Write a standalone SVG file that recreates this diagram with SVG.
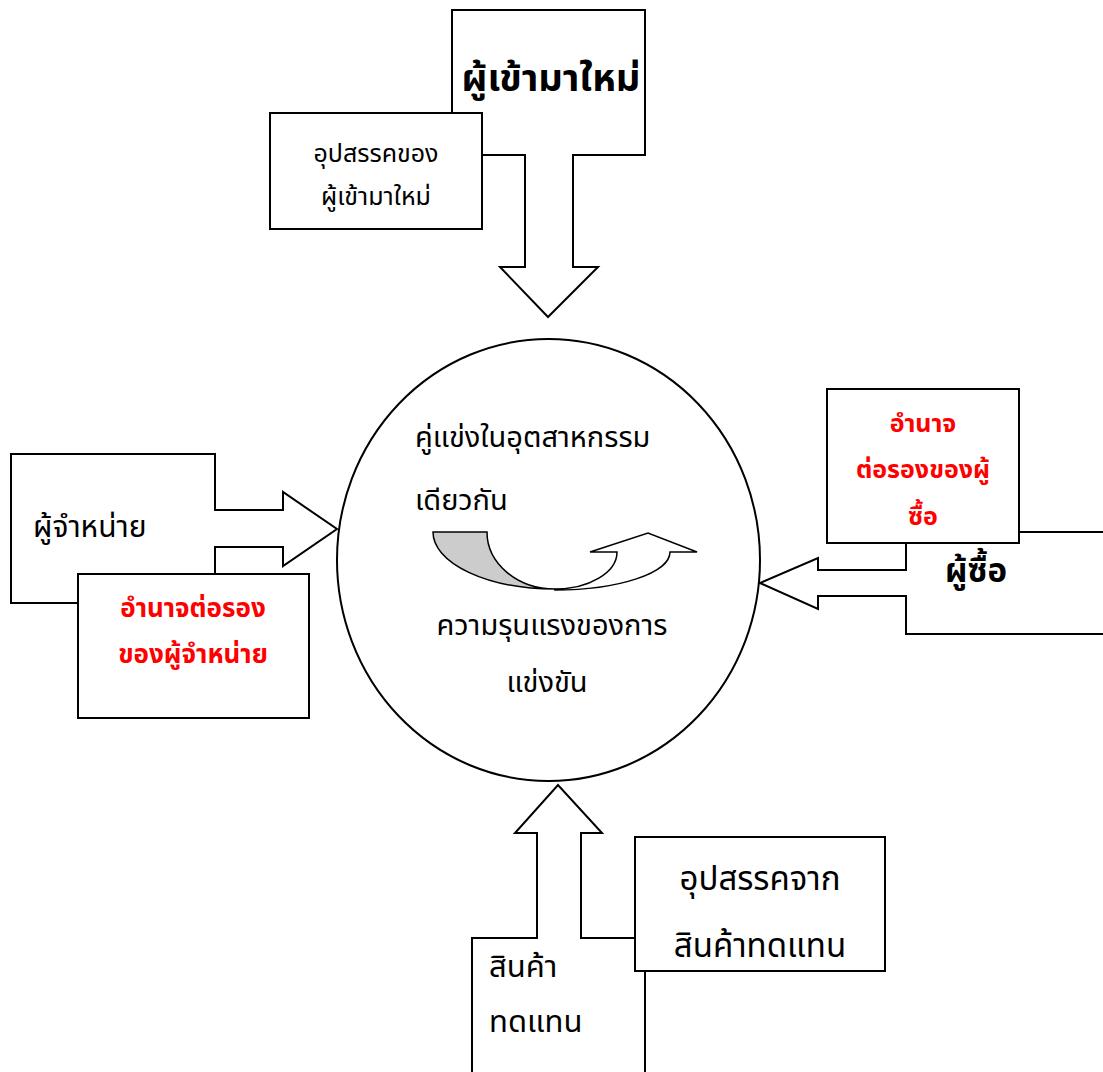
<svg xmlns="http://www.w3.org/2000/svg" width="1103" height="1072" viewBox="0 0 1103 1072">
<style>
.sh{fill:#fff;stroke:#000;stroke-width:2;stroke-linejoin:miter}
.t{font-family:"Noto Sans Thai","Noto Sans","DejaVu Sans",sans-serif;fill:#000}
.b{font-weight:bold}
.r{fill:#ff0000;font-weight:bold}
.m{text-anchor:middle}
</style>
<rect width="1103" height="1072" fill="#fff"/>
<g id="rivalry">
<ellipse cx="548.5" cy="560" rx="211.5" ry="221" class="sh"/>
<text class="t" x="415" y="447" font-size="29">คู่แข่งในอุตสาหกรรม</text>
<text class="t" x="415" y="510" font-size="29">เดียวกัน</text>
<path d="M433,532 L487,532 A68,57 0 0 0 555,589 A122,57 0 0 1 433,532 Z" fill="#cccccc" stroke="#000" stroke-width="1.5"/>
<path d="M555,589 A62,37 0 0 0 617,552 L590,552 L648,533 L697,552 L670,552 A115,38 0 0 1 555,590 Z" fill="#fff" stroke="#000" stroke-width="1.5"/>
<text class="t m" x="552" y="635" font-size="29">ความรุนแรงของการ</text>
<text class="t m" x="547" y="692" font-size="29">แข่งขัน</text>
</g>
<g id="connectors">
</g>
<g id="new-entrants">
<path class="sh" d="M452,10 H645 V155 H573 V267 H598 L548,317 L500,267 H525 V155 H452 Z"/>
<text class="t b m" x="551" y="91" font-size="38">ผู้เข้ามาใหม่</text>
</g>
<g id="entry-barriers">
<rect class="sh" x="270" y="113" width="212" height="116"/>
<text class="t m" x="376" y="162" font-size="25">อุปสรรคของ</text>
<text class="t m" x="376" y="205" font-size="25">ผู้เข้ามาใหม่</text>
</g>
<g id="suppliers">
<path class="sh" d="M11,454 H215 V510 H283 V492 L337,529 L283,566 V547 H215 V603 H11 Z"/>
<text class="t" x="33" y="537" font-size="30">ผู้จำหน่าย</text>
</g>
<g id="supplier-power">
<rect class="sh" x="78" y="574" width="231" height="144"/>
<text class="t r m" x="193" y="617" font-size="26">อำนาจต่อรอง</text>
<text class="t r m" x="193" y="663" font-size="26">ของผู้จำหน่าย</text>
</g>
<g id="buyers">
<path class="sh" d="M906,532 H1110 V634 H906 V596 H818 V609 L760,583 L818,558 V570 H906 Z"/>
<text class="t b" x="945" y="582" font-size="33">ผู้ซื้อ</text>
</g>
<g id="buyer-power">
<rect class="sh" x="827" y="389" width="192" height="154"/>
<text class="t r m" x="923" y="432" font-size="25">อำนาจ</text>
<text class="t r m" x="923" y="478" font-size="25">ต่อรองของผู้</text>
<text class="t r m" x="923" y="525" font-size="25">ซื้อ</text>
</g>
<g id="substitutes">
<path class="sh" d="M472,1080 V938 H537 V833 H515 L558,785 L602,833 H581 V938 H645 V1080 Z"/>
<text class="t" x="489" y="977" font-size="31">สินค้า</text>
<text class="t" x="489" y="1032" font-size="31">ทดแทน</text>
</g>
<g id="substitute-barriers">
<rect class="sh" x="635" y="837" width="250" height="134"/>
<text class="t m" x="760" y="890" font-size="33">อุปสรรคจาก</text>
<text class="t m" x="760" y="957" font-size="33">สินค้าทดแทน</text>
</g>
</svg>
